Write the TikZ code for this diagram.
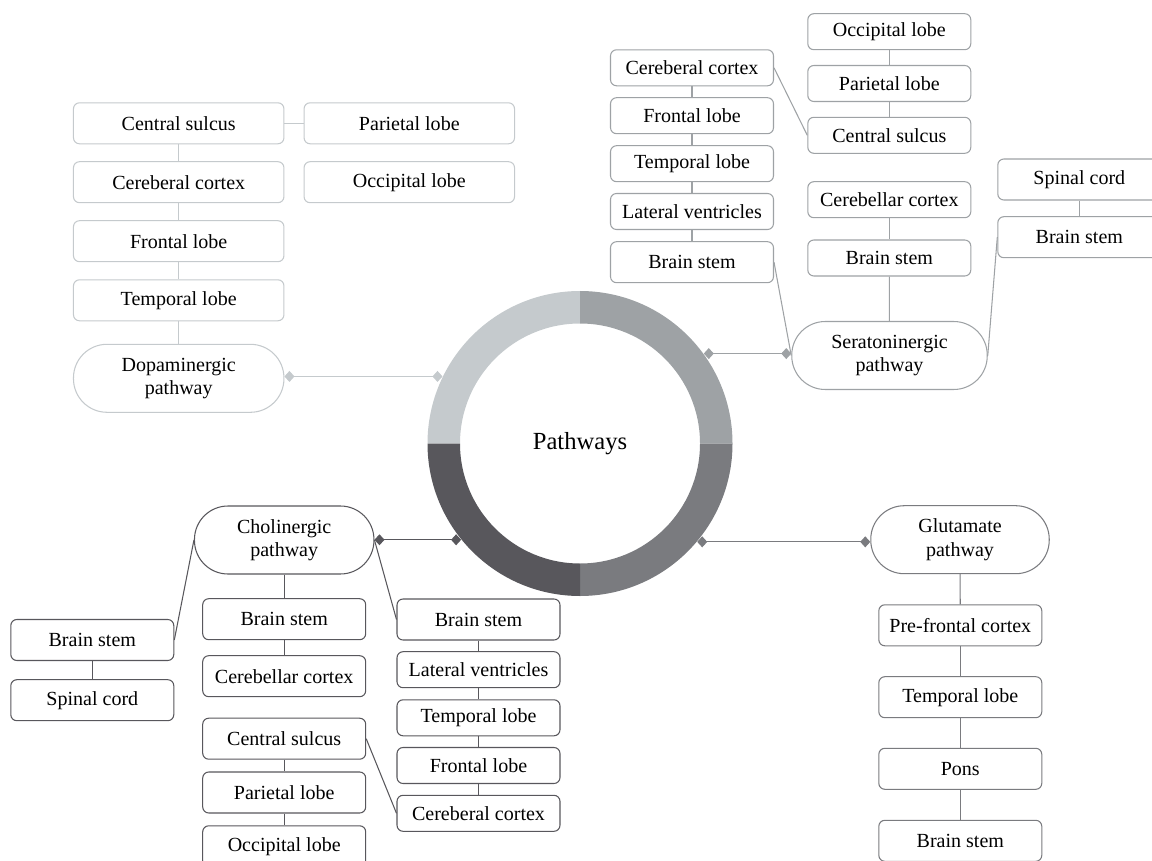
\documentclass[tikz,border=0pt]{standalone}
\usepackage{fontspec}
\setmainfont{Liberation Serif}
\usetikzlibrary{arrows.meta}
\definecolor{ringa}{HTML}{C5CACD}
\definecolor{ringb}{HTML}{9EA2A5}
\definecolor{ringc}{HTML}{7A7B7F}
\definecolor{ringd}{HTML}{58575C}

\begin{document}
\begin{tikzpicture}[x=0.02cm,y=-0.02cm,
    every node/.style={draw,line width=0.6pt,rounded corners=0.12cm,fill=white,inner sep=0pt,align=center,
        font=\fontsize{11.4}{13.3}\selectfont,minimum width=3.26cm,minimum height=0.82cm},
    slim/.style={minimum height=0.72cm},
    wide/.style={minimum width=4.21cm},
    pill/.style={rounded corners=0.67cm,minimum height=1.36cm},
    hub/.style={draw=none,fill=none,circle,minimum size=6.1cm,font=\fontsize{14}{16}\selectfont},
    la/.style={ringa,line width=0.6pt},
    lb/.style={ringb,line width=0.6pt},
    lc/.style={ringc,line width=0.6pt},
    ld/.style={ringd,line width=0.6pt},
    link/.style={{Diamond[length=2mm,width=2.2mm]}-{Diamond[length=2mm,width=2.2mm]}}]
            \useasboundingbox (0,0) rectangle (1152,861);

            \node[hub] (0) at (580,443.5) {Pathways};
            \fill[ringa] (0) ++(180:152.5) arc[start angle=180,end angle=270,radius=152.5] -- ++(0,32.5) arc[start angle=270,end angle=180,radius=120] -- cycle;
            \fill[ringb] (0) ++(270:152.5) arc[start angle=270,end angle=360,radius=152.5] -- ++(-32.5,0) arc[start angle=360,end angle=270,radius=120] -- cycle;
            \fill[ringc] (0) ++(0:152.5) arc[start angle=0,end angle=90,radius=152.5] -- ++(0,-32.5) arc[start angle=90,end angle=0,radius=120] -- cycle;
            \fill[ringd] (0) ++(90:152.5) arc[start angle=90,end angle=180,radius=152.5] -- ++(32.5,0) arc[start angle=180,end angle=90,radius=120] -- cycle;

            % dopaminergic
            \node[wide,draw=ringa] (1) at (178.7,123.3) {Central sulcus};
            \node[wide,draw=ringa] (2) at (178.7,182.2) {Cereberal cortex};
            \node[wide,draw=ringa] (3) at (178.7,241.2) {Frontal lobe};
            \node[wide,draw=ringa] (4) at (178.7,300.3) {Temporal lobe};
            \node[wide,pill,draw=ringa] (5) at (178.7,378.3) {Dopaminergic\\pathway};
            \node[wide,draw=ringa] (6) at (409.3,123.3) {Parietal lobe};
            \node[wide,draw=ringa] (7) at (409.3,182.2) {Occipital lobe};

            % seratoninergic
            \node[slim,draw=ringb] (8) at (692,67.8) {Cereberal cortex};
            \node[slim,draw=ringb] (9) at (692,115.7) {Frontal lobe};
            \node[slim,draw=ringb] (10) at (692,163.7) {Temporal lobe};
            \node[slim,draw=ringb] (11) at (692,211.5) {Lateral ventricles};
            \node[draw=ringb] (12) at (692,262.2) {Brain stem};
            \node[slim,draw=ringb] (13) at (889.3,31.7) {Occipital lobe};
            \node[slim,draw=ringb] (14) at (889.3,83.5) {Parietal lobe};
            \node[slim,draw=ringb] (15) at (889.3,135.3) {Central sulcus};
            \node[slim,draw=ringb] (16) at (889.3,199.7) {Cerebellar cortex};
            \node[slim,draw=ringb] (17) at (889.3,258) {Brain stem};
            \node[pill,minimum width=3.91cm,draw=ringb] (18) at (889.5,355.5) {Seratoninergic\\pathway};
            \node[draw=ringb] (19) at (1079.3,179.5) {Spinal cord};
            \node[draw=ringb] (20) at (1079.3,237.2) {Brain stem};

            % cholinergic
            \node[pill,minimum width=3.59cm,draw=ringd] (21) at (284.2,540) {Cholinergic\\pathway};
            \node[draw=ringd] (22) at (92.3,640) {Brain stem};
            \node[draw=ringd] (23) at (92.3,700.2) {Spinal cord};
            \node[draw=ringd] (24) at (284.2,619.2) {Brain stem};
            \node[draw=ringd] (25) at (284.2,676.2) {Cerebellar cortex};
            \node[draw=ringd] (26) at (284.2,738.7) {Central sulcus};
            \node[draw=ringd] (27) at (284.2,792.5) {Parietal lobe};
            \node[draw=ringd] (28) at (284.2,846.3) {Occipital lobe};
            \node[draw=ringd] (29) at (478.5,619.5) {Brain stem};
            \node[slim,draw=ringd] (30) at (478.5,669.7) {Lateral ventricles};
            \node[slim,draw=ringd] (31) at (478.5,717.8) {Temporal lobe};
            \node[slim,draw=ringd] (32) at (478.5,765.5) {Frontal lobe};
            \node[slim,draw=ringd] (33) at (478.5,813.3) {Cereberal cortex};

            % glutamate
            \node[pill,minimum width=3.57cm,draw=ringc] (34) at (960,539.7) {Glutamate\\pathway};
            \node[draw=ringc] (35) at (960.3,625.3) {Pre-frontal cortex};
            \node[draw=ringc] (36) at (960.3,697.2) {Temporal lobe};
            \node[draw=ringc] (37) at (960.3,768.8) {Pons};
            \node[draw=ringc] (38) at (960.3,840.8) {Brain stem};

            \path [la,link] (0.154.7) edge (0.154.7 -| 5.east);
            \path [lb,link] (0.36) edge (0.36 -| 18.west);
            \path [ld,link] (0.219.3) edge (0.219.3 -| 21.east);
            \path [lc,link] (0.320.9) edge (0.320.9 -| 34.west);

            \path [la] (1) edge (6);
            \path [la] (1) edge (2);
            \path [la] (2) edge (3);
            \path [la] (3) edge (4);
            \path [la] (4) edge (5);

            \path [lb] (8) edge (9);
            \path [lb] (9) edge (10);
            \path [lb] (10) edge (11);
            \path [lb] (11) edge (12);
            \path [lb] (12.east) edge (18.west);
            \path [lb] (8.east) edge (15.west);
            \path [lb] (13) edge (14);
            \path [lb] (14) edge (15);
            \path [lb] (16) edge (17);
            \path [lb] (17) edge (18);
            \path [lb] (18.east) edge (20.west);
            \path [lb] (19) edge (20);

            \path [ld] (21.west) edge (22.east);
            \path [ld] (22) edge (23);
            \path [ld] (21) edge (24);
            \path [ld] (24) edge (25);
            \path [ld] (26) edge (27);
            \path [ld] (27) edge (28);
            \path [ld] (21.east) edge (29.west);
            \path [ld] (29) edge (30);
            \path [ld] (30) edge (31);
            \path [ld] (31) edge (32);
            \path [ld] (32) edge (33);
            \path [ld] (26.east) edge (33.west);

            \path [lc] (34) edge (35);
            \path [lc] (35) edge (36);
            \path [lc] (36) edge (37);
            \path [lc] (37) edge (38);
        \end{tikzpicture}
\end{document}
